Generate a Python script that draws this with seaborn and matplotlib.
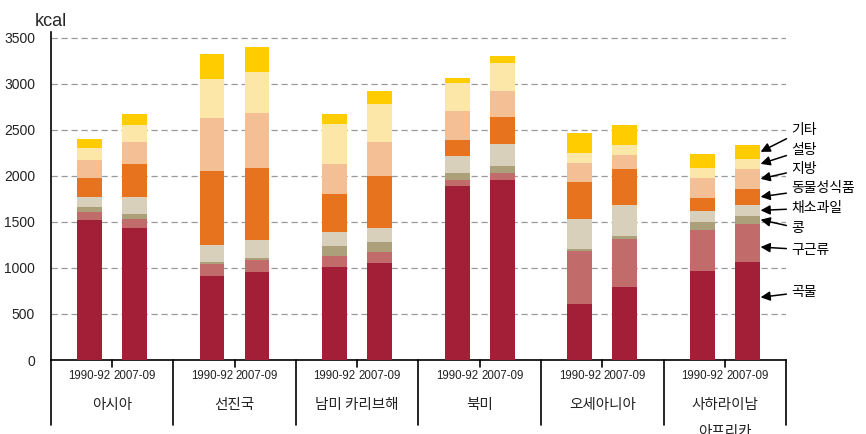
import numpy as np
import pandas as pd
import matplotlib
matplotlib.use("Agg")
import matplotlib.pyplot as plt
import seaborn as sns
from matplotlib.transforms import blended_transform_factory

# ---------------- data ----------------
regions = ["아시아", "선진국", "남미 카리브해", "북미", "오세아니아", "사하라이남\n아프리카"]
periods = ["1990-92", "2007-09"]
categories = ["곡물", "구근류", "콩", "채소과일", "동물성식품", "지방", "설탕", "기타"]

# order: Asia90, Asia07, Dev90, Dev07, LA90, LA07, NA90, NA07, Oc90, Oc07, Af90, Af07
cereals = [1522, 1438, 917, 953, 1011, 1051, 1895, 1957, 609, 790, 967, 1065]
roots = [87, 95, 126, 130, 116, 119, 62, 79, 576, 525, 449, 417]
pulses = [58, 54, 19, 29, 116, 109, 79, 76, 22, 30, 84, 86]
veg_fruit = [101, 181, 184, 192, 145, 159, 181, 239, 326, 337, 123, 117]
animal = [210, 366, 808, 786, 413, 559, 171, 294, 398, 391, 141, 177]
fats = [192, 236, 576, 595, 333, 373, 319, 275, 207, 159, 218, 214]
sugar = [134, 181, 428, 445, 435, 416, 307, 312, 116, 108, 105, 112]
other = [95, 123, 268, 272, 105, 134, 48, 72, 210, 218, 149, 149]

yticks = [0, 500, 1000, 1500, 2000, 2500, 3000, 3500]

# ---------------- style ----------------
colors = ["#A31F38", "#C26B6B", "#ABA079", "#D8D0BB", "#E8731F", "#F5BF96", "#FDE7A8", "#FFCC00"]
sns.set_theme(style="white")
plt.rcParams["font.family"] = ["Noto Sans CJK KR", "DejaVu Sans"]

stack = np.array([cereals, roots, pulses, veg_fruit, animal, fats, sugar, other], dtype=float)
cum = np.cumsum(stack, axis=0)

group_pitch = 2.724
pos = np.array([g * group_pitch + j for g in range(len(regions)) for j in range(len(periods))])
bar_w = 0.55

fig = plt.figure(figsize=(8.66, 4.34), dpi=100)
ax = fig.add_axes([51 / 866, 74 / 434, 735 / 866, 328 / 434])

for k in range(len(categories) - 1, -1, -1):
    df = pd.DataFrame({"x": pos, "y": cum[k]})
    sns.barplot(data=df, x="x", y="y", native_scale=True, width=bar_w, color=colors[k],
                saturation=1, linewidth=0, errorbar=None, ax=ax, zorder=3)

xlim = (-0.856, 15.48)
ax.set_xlim(*xlim)
ax.set_ylim(0, 3565)
ax.set_xlabel("")
ax.set_ylabel("")

# y axis
ax.set_yticks(yticks)
ax.set_yticklabels([str(t) for t in yticks], family=["Liberation Sans", "DejaVu Sans"], fontsize=10, color="#222222")
ax.tick_params(axis="y", length=0, pad=11.5)
ax.yaxis.grid(True, linestyle=(0, (5, 3)), color="#9a9a9a", linewidth=0.9)
ax.xaxis.grid(False)
ax.set_axisbelow(True)

for s in ["top", "right"]:
    ax.spines[s].set_visible(False)
for s in ["left", "bottom"]:
    ax.spines[s].set_color("black")
    ax.spines[s].set_linewidth(1.2)

# x axis labels
ax.set_xticks([])
trans = blended_transform_factory(ax.transData, ax.transAxes)
ax_h = 328.0
for i, x in enumerate(pos):
    ax.text(x, -16 / ax_h, periods[i % 2], transform=trans, ha="center", va="center",
            fontsize=8.3, family=["Liberation Sans", "DejaVu Sans"], color="#222222")

group_centers = [(pos[2 * g] + pos[2 * g + 1]) / 2 for g in range(len(regions))]
for g, xc in enumerate(group_centers):
    for li, line in enumerate(regions[g].split("\n")):
        ax.text(xc, -(45 + 27 * li) / ax_h, line, transform=trans, ha="center", va="center",
                fontsize=10.5, color="#222222")
    ax.plot([xc, xc], [0, -7 / ax_h], transform=trans, clip_on=False, color="black", lw=1.2)

bounds = [xlim[0]] + [(pos[2 * g + 1] + pos[2 * g + 2]) / 2 for g in range(len(regions) - 1)] + [xlim[1]]
for b in bounds:
    ax.plot([b, b], [0, -65 / ax_h], transform=trans, clip_on=False, color="black", lw=1.2)

# legend annotations pointing at last bar
arrow_frac = [0.64, 0.39, 0.5, 0.5, 0.5, 0.5, 0.5, 0.5]
label_y_px = [292, 250, 228, 208, 188, 169, 150, 130]
last = len(pos) - 1
bottoms = np.vstack([np.zeros(len(pos)), cum[:-1]])
for k, name in enumerate(categories):
    yv = bottoms[k, last] + arrow_frac[k] * stack[k, last]
    ax.annotate(name, xy=(pos[last] + bar_w / 2 + 0.02, yv), xycoords="data",
                xytext=((791 - 51) / 735, (360 - label_y_px[k]) / ax_h), textcoords="axes fraction",
                ha="left", va="center", fontsize=10, color="black", annotation_clip=False,
                arrowprops=dict(arrowstyle="-|>", color="black", lw=1.1, mutation_scale=14,
                                shrinkA=1, shrinkB=0))

fig.text(35 / 866, 1 - 21 / 434, "kcal", fontsize=13, va="center", ha="left",
         family=["Liberation Sans", "DejaVu Sans"])

fig.savefig("out.png", dpi=100)
